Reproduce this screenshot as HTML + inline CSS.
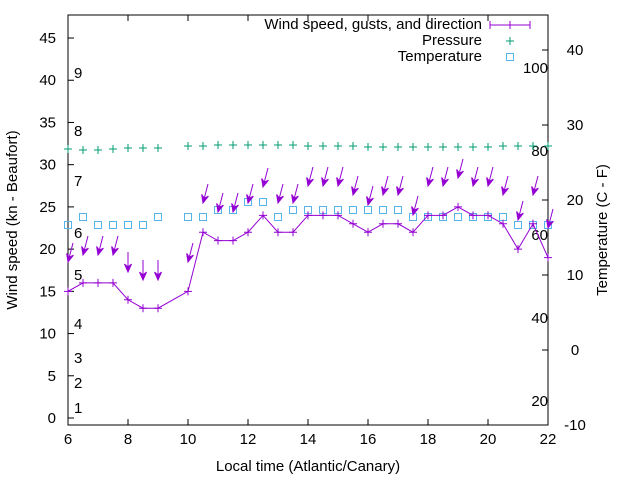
<!DOCTYPE html>
<html><head><meta charset="utf-8"><style>
html,body{margin:0;padding:0;background:#fff;}
svg text{font-family:"Liberation Sans",sans-serif;font-size:15px;fill:#000;}
</style></head><body>
<svg id="s" width="640" height="480" xmlns="http://www.w3.org/2000/svg"></svg>
<script>
const S=document.getElementById('s');let h='';
const X=t=>68+(t-6)*30, Y=v=>418-v*8.444, YR=c=>350-c*7.5;
h+='<rect x="68" y="15" width="480" height="410" fill="none" stroke="#000" stroke-width="1"/>';
for(let v=0;v<=45;v+=5){const y=Y(v);h+=`<line x1="68" y1="${y}" x2="74" y2="${y}" stroke="#000"/><text x="56" y="${y+5}" text-anchor="end">${v}</text>`;}
for(let c=-10;c<=40;c+=10){const y=YR(c);h+=`<line x1="542" y1="${y}" x2="548" y2="${y}" stroke="#000"/><text x="575" y="${y+5}" text-anchor="middle">${c}</text>`;}
for(let t=6;t<=22;t+=2){const x=X(t);h+=`<line x1="${x}" y1="425" x2="${x}" y2="419" stroke="#000"/><line x1="${x}" y1="15" x2="${x}" y2="21" stroke="#000"/><text x="${x}" y="444" text-anchor="middle">${t}</text>`;}
h+='<text x="308" y="471" text-anchor="middle">Local time (Atlantic/Canary)</text>';
h+='<text transform="translate(17,220) rotate(-90)" text-anchor="middle">Wind speed (kn - Beaufort)</text>';
h+='<text transform="translate(607,230) rotate(-90)" text-anchor="middle">Temperature (C - F)</text>';
[[9,78],[8,136],[7,186],[6,238],[5,280],[4,329],[3,363],[2,388],[1,413]].forEach(a=>h+=`<text x="74" y="${a[1]}">${a[0]}</text>`);
[[100,73],[80,156],[60,240],[40,323],[20,406]].forEach(a=>h+=`<text x="548" y="${a[1]}" text-anchor="end">${a[0]}</text>`);
const T=[6,6.5,7,7.5,8,8.5,9,10,10.5,11,11.5,12,12.5,13,13.5,14,14.5,15,15.5,16,16.5,17,17.5,18,18.5,19,19.5,20,20.5,21,21.5,22];
const W=[15,16,16,16,14,13,13,15,22,21,21,22,24,22,22,24,24,24,23,22,23,23,22,24,24,25,24,24,23,20,23,19];
const G=[262,255,255,255,272,280,280,262,203,212,212,203,187,203,203,186,186,186,195,205,195,195,215,186,186,178,186,186,195,220,195,228];
const TP=[225,217,225,225,225,225,217,217,217,210,210,202,202,217,210,210,210,210,210,210,210,210,217,217,217,217,217,217,217,225,225,225];
const P=[149,150,150,149,148,148,148,146,146,145,145,145,145,145,145,146,146,146,146,147,147,147,147,147,147,147,147,147,146,146,146,146];
const pu='#9400d3',gr='#009e73',bl='#56b4e9';
T.forEach((t,i)=>{const x=X(t),y=P[i];h+=`<path d="M${x-4} ${y}H${x+4}M${x} ${y-4}V${y+4}" stroke="${gr}" stroke-width="1"/>`;});
T.forEach((t,i)=>{const x=X(t),y=TP[i];h+=`<rect x="${x-3.5}" y="${y-3.5}" width="7" height="7" fill="none" stroke="${bl}" stroke-width="1"/>`;});
h+=`<polyline fill="none" stroke="${pu}" stroke-width="1" points="${T.map((t,i)=>X(t)+','+Y(W[i])).join(' ')}"/>`;
T.forEach((t,i)=>{const x=X(t),y=Y(W[i]);h+=`<path d="M${x-4} ${y}H${x+4}M${x} ${y-4}V${y+4}" stroke="${pu}"/>`;});
T.forEach((t,i)=>{const x=X(t),y=G[i];const vert=(t>=8&&t<=9);const dx=vert?0:5,dy=vert?-20:-19;
const L=Math.hypot(dx,dy),ux=dx/L,uy=dy/L;const bx=x+ux*8,by=y+uy*8,px=-uy*3.5,py=ux*3.5;
h+=`<line x1="${x+dx}" y1="${y+dy}" x2="${x}" y2="${y}" stroke="${pu}"/><polygon points="${x},${y} ${bx+px},${by+py} ${x+ux*5},${y+uy*5} ${bx-px},${by-py}" fill="${pu}" stroke="${pu}" stroke-width="1"/>`;});
h+=`<text x="482" y="29" text-anchor="end">Wind speed, gusts, and direction</text><text x="482" y="45" text-anchor="end">Pressure</text><text x="482" y="61" text-anchor="end">Temperature</text>`;
h+=`<path d="M490 25H530M490 21V29M530 21V29M510 21V29" stroke="${pu}"/><path d="M506 41H514M510 37V45" stroke="${gr}"/><rect x="506.5" y="53.5" width="7" height="7" fill="none" stroke="${bl}"/>`;
S.innerHTML=h;
</script>
</body></html>
